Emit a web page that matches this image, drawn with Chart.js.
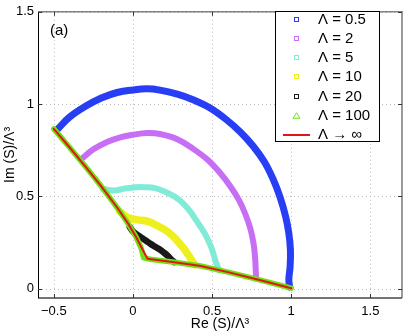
<!DOCTYPE html>
<html><head><meta charset="utf-8">
<script src="https://cdn.jsdelivr.net/npm/chart.js@4.4.1/dist/chart.umd.min.js"></script>
<style>html,body{margin:0;padding:0;background:#fff;}canvas{display:block;}</style>
</head><body>
<canvas id="c" width="409" height="336"></canvas>
<script>
// ---- data ----
const xTickValues = [-0.5, 0, 0.5, 1, 1.5];
const yTickValues = [0, 0.5, 1, 1.5];
const legendLabels = ['\u039b = 0.5', '\u039b = 2', '\u039b = 5', '\u039b = 10', '\u039b = 20', '\u039b = 100', '\u039b \u2192 \u221e'];

const lam05X = [-0.475, -0.40, -0.30, -0.20, -0.10, 0.00, 0.09, 0.17, 0.28, 0.38, 0.49, 0.59, 0.68, 0.76, 0.83, 0.885, 0.93, 0.965, 0.985, 0.995, 0.993, 0.985, 0.99];
const lam05Y = [0.865, 0.93, 0.988, 1.033, 1.063, 1.077, 1.083, 1.076, 1.054, 1.024, 0.978, 0.916, 0.848, 0.772, 0.688, 0.595, 0.495, 0.39, 0.30, 0.21, 0.12, 0.05, 0.01];

const lam2X = [-0.33, -0.25, -0.16, -0.08, 0.00, 0.09, 0.17, 0.28, 0.38, 0.47, 0.55, 0.615, 0.67, 0.71, 0.742, 0.762, 0.772, 0.776, 0.778];
const lam2Y = [0.70, 0.755, 0.796, 0.82, 0.834, 0.843, 0.838, 0.81, 0.758, 0.70, 0.628, 0.555, 0.48, 0.405, 0.325, 0.245, 0.165, 0.095, 0.055];

const lam5X = [-0.19, -0.12, -0.05, 0.02, 0.07, 0.14, 0.21, 0.27, 0.32, 0.365, 0.40, 0.435, 0.466, 0.49, 0.508, 0.522, 0.535, 0.545];
const lam5Y = [0.54, 0.532, 0.543, 0.55, 0.55, 0.545, 0.523, 0.495, 0.46, 0.415, 0.37, 0.325, 0.28, 0.235, 0.19, 0.15, 0.12, 0.10];

const lam10X = [-0.085, -0.03, 0.03, 0.07, 0.11, 0.15, 0.20, 0.24, 0.27, 0.30, 0.32, 0.34, 0.36, 0.375, 0.39];
const lam10Y = [0.42, 0.385, 0.373, 0.37, 0.36, 0.343, 0.32, 0.295, 0.27, 0.24, 0.22, 0.195, 0.17, 0.15, 0.13];

const lam20X = [-0.02, 0.00, 0.03, 0.065, 0.10, 0.13, 0.165, 0.195, 0.22, 0.24, 0.26];
const lam20Y = [0.335, 0.31, 0.29, 0.27, 0.25, 0.233, 0.215, 0.196, 0.178, 0.16, 0.145];

const lam100X = [-0.5, -0.4, -0.3, -0.2, -0.1, -0.03, 0.02, 0.05, 0.068, 0.12, 0.25, 0.42, 0.60, 0.80, 1.0];
const lam100Y = [0.866, 0.765, 0.662, 0.555, 0.44, 0.352, 0.28, 0.225, 0.168, 0.158, 0.145, 0.125, 0.09, 0.048, 0.003];

const limX = [-0.5, -0.4, -0.3, -0.2, -0.1, -0.03, 0.02, 0.06, 0.092, 0.25, 0.42, 0.60, 0.80, 1.0];
const limY = [0.866, 0.765, 0.662, 0.555, 0.44, 0.352, 0.28, 0.214, 0.162, 0.145, 0.125, 0.09, 0.048, 0.003];

// ---- styles ----
const colors = ['rgb(40,62,245)', 'rgb(200,110,245)', 'rgb(128,235,215)', 'rgb(238,240,30)', 'rgb(25,25,25)', 'rgb(110,225,20)', 'rgb(228,20,20)'];
const FONT = "'Liberation Sans', Arial, Helvetica, sans-serif";

function pts(xs, ys) { return xs.map((v, i) => ({x: v, y: ys[i]})); }

const series = [
  {d: pts(lam05X, lam05Y), w: 7, t: 0.4},
  {d: pts(lam2X, lam2Y), w: 6, t: 0.4},
  {d: pts(lam5X, lam5Y), w: 6, t: 0.4},
  {d: pts(lam10X, lam10Y), w: 7.5, t: 0.4},
  {d: pts(lam20X, lam20Y), w: 6.5, t: 0.4},
  {d: pts(lam100X, lam100Y), w: 5.5, t: 0},
  {d: pts(limX, limY), w: 2, t: 0}
];

const datasets = series.map((s, i) => ({
  label: legendLabels[i],
  data: s.d,
  borderColor: colors[i],
  backgroundColor: colors[i],
  borderWidth: s.w,
  tension: s.t,
  fill: false,
  pointRadius: 0,
  pointHoverRadius: 0,
  order: 7 - i,
  borderCapStyle: 'round',
  borderJoinStyle: 'round'
}));

const framePlugin = {
  id: 'frame',
  beforeDatasetsDraw(chart) {
    const {ctx, chartArea: a, scales: {x, y}} = chart;
    ctx.save();
    ctx.strokeStyle = 'rgb(185,185,185)';
    ctx.lineWidth = 1;
    ctx.setLineDash([1, 3]);
    xTickValues.forEach(v => {
      const p = Math.round(x.getPixelForValue(v)) + 0.5;
      ctx.beginPath(); ctx.moveTo(p, a.top); ctx.lineTo(p, a.bottom); ctx.stroke();
    });
    yTickValues.forEach(v => {
      const p = Math.round(y.getPixelForValue(v)) + 0.5;
      ctx.beginPath(); ctx.moveTo(a.left, p); ctx.lineTo(a.right, p); ctx.stroke();
    });
    ctx.restore();
  },
  afterDatasetsDraw(chart) {
    const {ctx, chartArea: a, scales: {x, y}} = chart;
    ctx.save();
    ctx.setLineDash([]);
    ctx.strokeStyle = 'rgb(130,130,130)';
    ctx.lineWidth = 1.6;
    ctx.beginPath();
    ctx.moveTo(a.left, a.top); ctx.lineTo(a.right, a.top); ctx.lineTo(a.right, a.bottom);
    ctx.stroke();
    ctx.strokeStyle = 'rgb(70,70,70)';
    ctx.lineWidth = 1.3;
    ctx.beginPath();
    ctx.moveTo(a.right, a.bottom); ctx.lineTo(a.left, a.bottom);
    ctx.stroke();
    ctx.strokeStyle = '#000';
    ctx.lineWidth = 1;
    ctx.beginPath();
    ctx.moveTo(a.left + 0.5, a.bottom); ctx.lineTo(a.left + 0.5, a.top);
    ctx.stroke();
    ctx.strokeStyle = '#333';
    ctx.lineWidth = 1;
    xTickValues.forEach(v => {
      const p = Math.round(x.getPixelForValue(v)) + 0.5;
      ctx.beginPath(); ctx.moveTo(p, a.bottom); ctx.lineTo(p, a.bottom - 4); ctx.stroke();
      ctx.beginPath(); ctx.moveTo(p, a.top); ctx.lineTo(p, a.top + 4); ctx.stroke();
    });
    yTickValues.forEach(v => {
      const p = Math.round(y.getPixelForValue(v)) + 0.5;
      ctx.beginPath(); ctx.moveTo(a.left, p); ctx.lineTo(a.left + 4, p); ctx.stroke();
      ctx.beginPath(); ctx.moveTo(a.right, p); ctx.lineTo(a.right - 4, p); ctx.stroke();
    });
    ctx.fillStyle = '#000';
    ctx.font = '15px ' + FONT;
    ctx.textBaseline = 'middle';
    ctx.textAlign = 'left';
    ctx.fillText('(a)', 50, 31);
    const lx = 275.5, ly = 11.5, lw = 104, lh = 130;
    ctx.fillStyle = '#fff';
    ctx.fillRect(lx, ly, lw, lh);
    ctx.strokeStyle = '#000';
    ctx.lineWidth = 1;
    ctx.strokeRect(lx, ly, lw, lh);
    ctx.font = '15px ' + FONT;
    legendLabels.forEach((t, i) => {
      const cy = 19.5 + i * 19.25;
      const mx = 296.5;
      ctx.strokeStyle = colors[i];
      ctx.lineWidth = 1;
      if (i < 5) {
        ctx.strokeRect(mx - 2, Math.round(cy) - 2.5, 4, 4);
      } else if (i === 5) {
        ctx.beginPath();
        ctx.moveTo(mx, cy - 3); ctx.lineTo(mx + 3.5, cy + 2.5); ctx.lineTo(mx - 3.5, cy + 2.5); ctx.closePath();
        ctx.stroke();
      } else {
        ctx.lineWidth = 2;
        ctx.beginPath(); ctx.moveTo(283, cy); ctx.lineTo(310, cy); ctx.stroke();
      }
      ctx.fillStyle = '#000';
      ctx.fillText(t, 318, cy);
    });
    ctx.restore();
  }
};

function fmt(v) {
  return v < 0 ? '\u2212' + Math.abs(v) : String(v);
}

new Chart(document.getElementById('c'), {
  type: 'line',
  data: {datasets},
  options: {
    responsive: false,
    animation: false,
    devicePixelRatio: 1,
    events: [],
    layout: {padding: {top: 11, right: 7, left: 0, bottom: 0}},
    plugins: {legend: {display: false}, tooltip: {enabled: false}},
    scales: {
      x: {
        type: 'linear', min: -0.6, max: 1.7,
        afterBuildTicks: s => { s.ticks = xTickValues.map(v => ({value: v})); },
        afterFit: s => { s.height = 38; },
        grid: {display: false, drawTicks: false},
        border: {display: false},
        ticks: {color: '#000', font: {family: FONT, size: 13}, padding: 6, maxRotation: 0, callback: v => fmt(v)},
        title: {display: true, text: 'Re (S)/\u039b\u00b3', color: '#000', font: {family: FONT, size: 14}, padding: {top: 0, bottom: 3}}
      },
      y: {
        type: 'linear', min: -0.05, max: 1.5,
        afterBuildTicks: s => { s.ticks = yTickValues.map(v => ({value: v})); },
        afterFit: s => { s.width = 38; },
        grid: {display: false, drawTicks: false},
        border: {display: false},
        ticks: {color: '#000', font: {family: FONT, size: 13}, padding: 4, callback: v => fmt(v)},
        title: {display: true, text: 'Im (S)/\u039b\u00b3', color: '#000', font: {family: FONT, size: 14}, padding: {top: 2, bottom: 0}}
      }
    }
  },
  plugins: [framePlugin]
});
</script>
</body></html>
